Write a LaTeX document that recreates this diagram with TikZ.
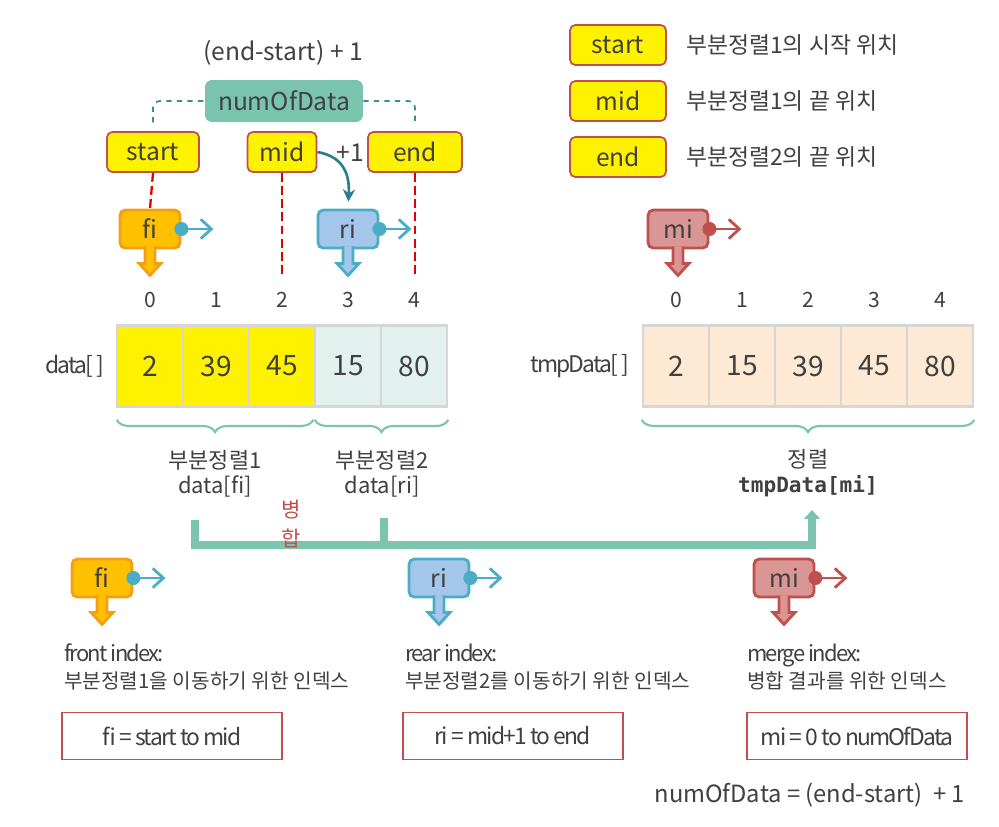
\documentclass[tikz,border=0pt]{standalone}
\usepackage{fontspec}
\setmainfont{Noto Sans CJK KR}
\setmonofont{DejaVu Sans Mono}
\newfontfamily\narrowfont[LetterSpace=-8]{Noto Sans CJK KR}
\usetikzlibrary{arrows.meta, calc, decorations.pathreplacing}

\definecolor{txtgray}{HTML}{404040}
\definecolor{boxred}{HTML}{C0504D}
\definecolor{tealfill}{HTML}{7AC4AE}
\definecolor{tealline}{HTML}{3C8A9C}
\definecolor{curvecol}{HTML}{2B7D8C}
\definecolor{dashred}{HTML}{E00000}
\definecolor{ptrorange}{HTML}{FFC000}
\definecolor{ptrorangedark}{HTML}{F59D15}
\definecolor{ptrblue}{HTML}{A4C6EA}
\definecolor{dotblue}{HTML}{4BACC6}
\definecolor{ptrred}{HTML}{D99694}
\definecolor{cellgray}{HTML}{D6D6D6}
\definecolor{cellgreen}{HTML}{E3F1EE}
\definecolor{cellpeach}{HTML}{FDE9D4}
\definecolor{braceteal}{HTML}{7CC4AD}

\tikzstyle{yellowbox} = [
    rectangle,
    rounded corners = 3pt,
    minimum height = 0.8cm,
    fill = yellow,
    draw = boxred,
    line width = 1pt,
    font = \fontsize{14}{16}\selectfont,
]
\tikzstyle{tealbox} = [
    rectangle,
    rounded corners = 4pt,
    minimum width = 3.16cm,
    minimum height = 0.84cm,
    fill = tealfill,
    font = \fontsize{14}{16}\selectfont,
]
\tikzstyle{ptr} = [
    rectangle,
    rounded corners = 3pt,
    minimum width = 1.2cm,
    minimum height = 0.76cm,
    line width = 1.6pt,
    inner sep = 0pt,
    font = \fontsize{14}{16}\selectfont,
]
\tikzstyle{cell} = [
    rectangle,
    minimum width = 1.32cm,
    minimum height = 1.62cm,
    draw = cellgray,
    line width = 1.5pt,
    font = \fontsize{16}{18}\selectfont,
]
\tikzstyle{rangebox} = [
    rectangle,
    minimum width = 4.4cm,
    minimum height = 0.94cm,
    draw = boxred,
    line width = 1pt,
    font = \narrowfont\fontsize{13}{15}\selectfont,
]
\tikzstyle{tealbrace} = [draw = braceteal, line width = 1.2pt, decorate, decoration = {brace, amplitude = 7pt}]
\tikzstyle{tealdash} = [draw = tealline, dashed, line width = 1pt, rounded corners = 4pt]
\tikzstyle{reddash} = [draw = dashred, dash pattern = on 5pt off 2.5pt, line width = 1.3pt]
\tikzstyle{mergebar} = [draw = braceteal, line width = 5pt]

% index pointer: name, position, label, fill, border, dot colour
\newcommand{\idxptr}[6]{%
    \node (#1) [ptr, fill = #4, draw = #5] at #2 {#3};
    \draw[#5, fill = #4, line width = 1.6pt] ($(#1.south) + (-5, -3)$) -- ++(0, 17) -- ++(-6, 0) -- ++(11, 12) -- ++(11, -12) -- ++(-6, 0) -- ++(0, -17);
    \draw[#6, line width = 1.6pt, -{Straight Barb[length = 6pt, width = 11pt]}] (#1.east) -- ++(32, 0);
    \fill[#6] (#1.east) circle (4pt);
}

\begin{document}
\begin{tikzpicture} [x = 0.02cm, y = -0.02cm, text = txtgray, font = \fontsize{12}{14}\selectfont]
    \useasboundingbox (0, 0) rectangle (999, 826);

    % start / mid / end
    \node (formula) [font = \fontsize{14}{16}\selectfont] at (283, 53) {(end-start) + 1};
    \node (numofdata) [tealbox] at (284, 101) {numOfData};
    \node (startbox) [yellowbox, minimum width = 1.84cm] at (153, 152) {start};
    \node (midbox) [yellowbox, minimum width = 1.38cm] at (282, 152) {mid};
    \node (endbox) [yellowbox, minimum width = 1.88cm] at (415, 152) {end};
    \node (plusone) [font = \fontsize{14}{16}\selectfont] at (350, 153) {+1};

    \draw[tealdash, shorten < = 5pt] (startbox.north) |- (numofdata.west);
    \draw[tealdash, shorten > = 5pt] (numofdata.east) -| (endbox.north);

    \idxptr{fi}{(150, 229)}{fi}{ptrorange}{ptrorangedark}{dotblue}
    \idxptr{ri}{(348, 229)}{ri}{ptrblue}{dotblue}{dotblue}
    \idxptr{mi}{(678, 229)}{mi}{ptrred}{boxred}{boxred}

    \coordinate (midlow) at (282, 275);
    \coordinate (endlow) at (415, 275);
    \draw[reddash] (startbox.south) -- (fi.north);
    \draw[reddash] (midbox.south) -- (midlow);
    \draw[reddash] (endbox.south) -- (endlow);
    \draw[curvecol, line width = 1.5pt, -{Stealth[length = 7pt, width = 7pt]}, shorten > = 4pt] (midbox.east) .. controls (340, 156) and (350, 170) .. (ri.north);

    % arrays
    \node (datalabel) [font = \narrowfont\fontsize{13}{15}\selectfont] at (75, 366) {data[ ]};
    \node (tmplabel) [font = \narrowfont\fontsize{13}{15}\selectfont] at (580, 366) {tmpData[ ]};
    \foreach \v/\c [count = \i from 0] in {2/yellow, 39/yellow, 45/yellow, 15/cellgreen, 80/cellgreen} {
        \node (d\i) [cell, fill = \c] at (150 + 66 * \i, 366) {\v};
        \node (di\i) [font = \fontsize{12}{14}\selectfont] at (150 + 66 * \i, 300) {\i};
    }
    \foreach \v [count = \i from 0] in {2, 15, 39, 45, 80} {
        \node (t\i) [cell, fill = cellpeach] at (676 + 66 * \i, 366) {\v};
        \node (ti\i) [font = \fontsize{12}{14}\selectfont] at (676 + 66 * \i, 300) {\i};
    }

    \draw[tealbrace] ($(d2.south east) + (-3, 12)$) -- ($(d0.south west) + (1, 12)$);
    \draw[tealbrace] ($(d4.south east) + (0, 12)$) -- ($(d3.south west) + (1, 12)$);
    \draw[tealbrace] ($(t4.south east) + (0, 12)$) -- ($(t0.south west) + (0, 12)$);

    \node (part1) [align = center, font = \fontsize{12.5}{14.5}\selectfont] at (215, 474) {부분정렬1\\data[fi]};
    \node (part2) [align = center, font = \fontsize{12.5}{14.5}\selectfont] at (382, 474) {부분정렬2\\data[ri]};
    \node (sorted) [align = center, font = \fontsize{12.5}{14.5}\selectfont] at (808, 473) {정렬\\\textbf{\ttfamily\fontsize{12}{14.5}\selectfont tmpData[mi]}};

    % merge
    \coordinate (mergeL) at (195, 520);
    \coordinate (mergeM) at (384, 518);
    \coordinate (mergeB) at (384, 545);
    \coordinate (mergeR) at (812, 510);
    \draw[mergebar, -{Triangle[length = 5pt, width = 9pt]}] (mergeL) -- ++(0, 25) -| (mergeR);
    \draw[mergebar] (mergeM) -- (mergeB);
    \node (byeong) [text = boxred] at (291, 510) {병};
    \node (hap) [text = boxred] at (291, 538) {합};

    % legend
    \node (legstart) [yellowbox, minimum width = 1.92cm] at (618, 45) {start};
    \node (legmid) [yellowbox, minimum width = 1.92cm] at (618, 101) {mid};
    \node (legend) [yellowbox, minimum width = 1.92cm] at (618, 157) {end};
    \node (legstarttxt) [anchor = west, font = \fontsize{13}{15}\selectfont] at (680, 45) {부분정렬1의 시작 위치};
    \node (legmidtxt) [anchor = west, font = \fontsize{13}{15}\selectfont] at (680, 101) {부분정렬1의 끝 위치};
    \node (legendtxt) [anchor = west, font = \fontsize{13}{15}\selectfont] at (680, 157) {부분정렬2의 끝 위치};

    % index pointers
    \idxptr{fib}{(102, 578)}{fi}{ptrorange}{ptrorangedark}{dotblue}
    \idxptr{rib}{(439, 578)}{ri}{ptrblue}{dotblue}{dotblue}
    \idxptr{mib}{(784, 578)}{mi}{ptrred}{boxred}{boxred}

    \node (finame) [anchor = base west, font = \narrowfont\fontsize{12.5}{14}\selectfont] at (58, 661) {front index:};
    \node (fitext) [anchor = base west, font = \fontsize{11.5}{13}\selectfont] at (58, 688) {부분정렬1을 이동하기 위한 인덱스};
    \node (riname) [anchor = base west, font = \narrowfont\fontsize{12.5}{14}\selectfont] at (399, 661) {rear index:};
    \node (ritext) [anchor = base west, font = \fontsize{11.5}{13}\selectfont] at (399, 688) {부분정렬2를 이동하기 위한 인덱스};
    \node (miname) [anchor = base west, font = \narrowfont\fontsize{12.5}{14}\selectfont] at (741, 661) {merge index:};
    \node (mitext) [anchor = base west, font = \fontsize{11.5}{13}\selectfont] at (741, 688) {병합 결과를 위한 인덱스};

    \node (firange) [rangebox] at (172, 736) {fi = start to mid};
    \node (rirange) [rangebox] at (513, 736) {ri = mid+1 to end};
    \node (mirange) [rangebox] at (857, 736) {mi = 0 to numOfData};

    \node (numdef) [anchor = east, font = \fontsize{13.5}{16}\selectfont] at (971, 795) {numOfData = (end-start)\ \ + 1};
\end{tikzpicture}
\end{document}
